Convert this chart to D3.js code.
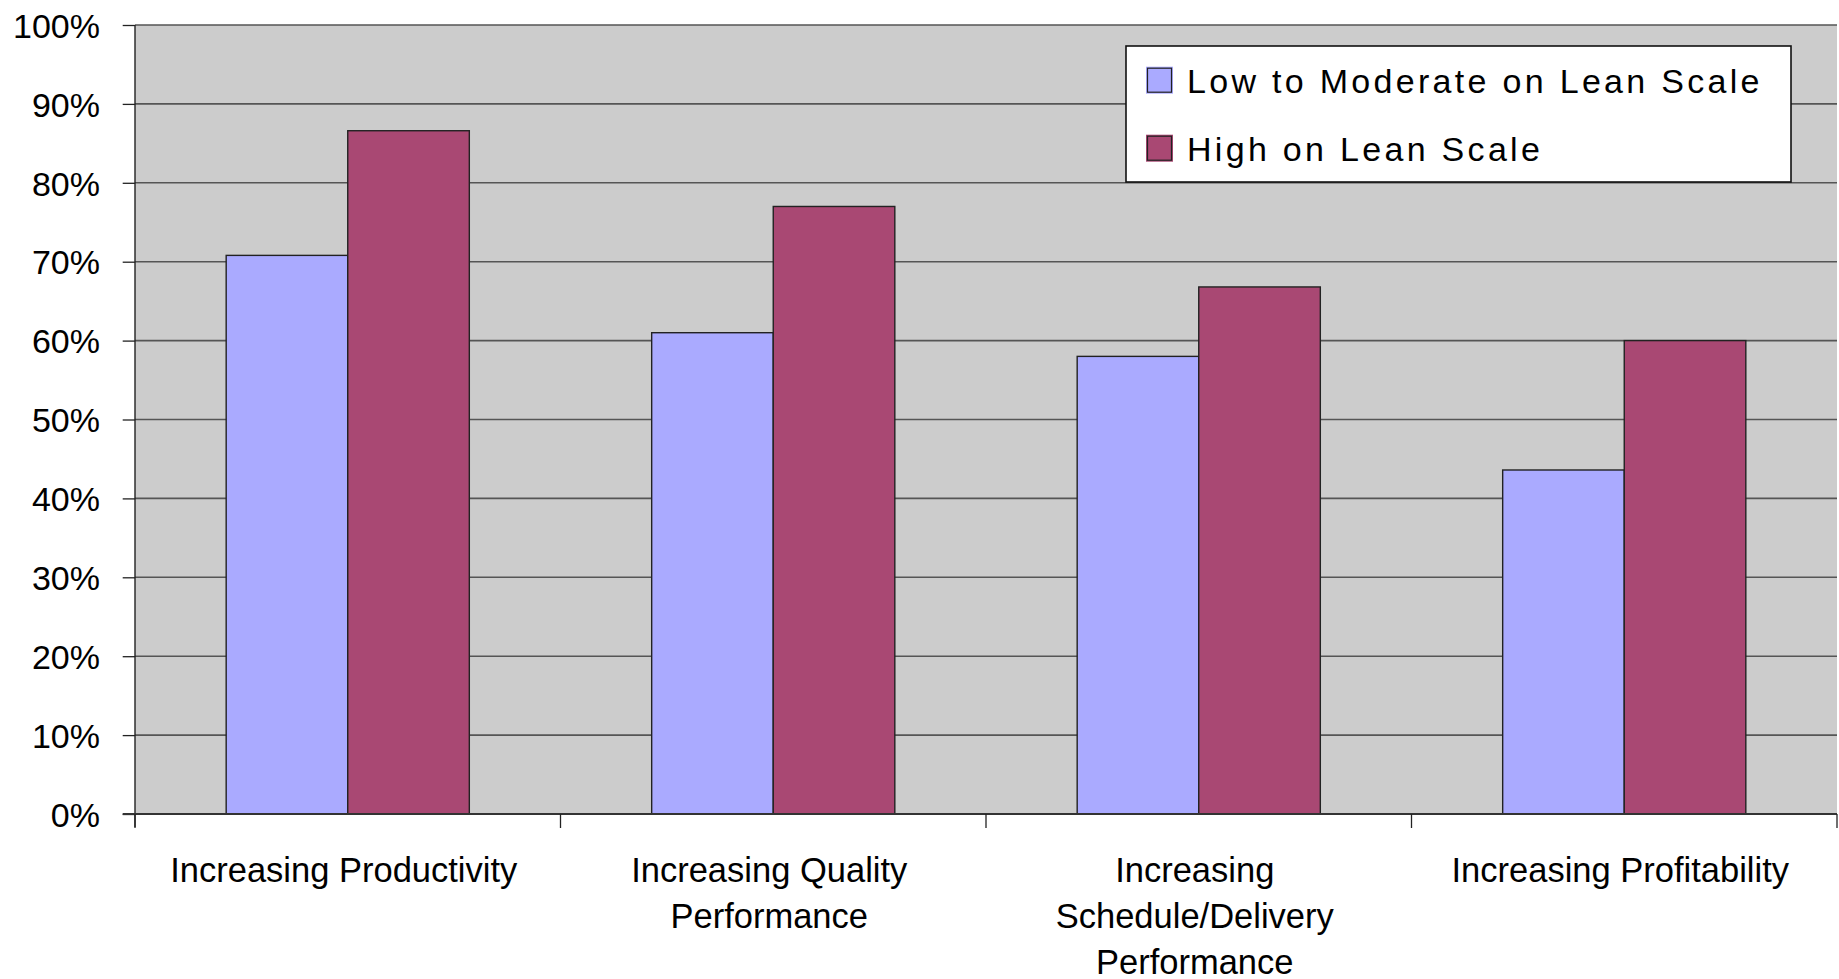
<!DOCTYPE html>
<html>
<head>
<meta charset="utf-8">
<script src="https://cdn.jsdelivr.net/npm/d3@7/dist/d3.min.js"></script>
<style>
  html, body { margin: 0; padding: 0; background: #ffffff; }
  svg { display: block; font-family: "Liberation Sans", Arial, Helvetica, sans-serif; }
</style>
</head>
<body>
<svg id="chart" width="1839" height="979"></svg>
<script>
// Outcome categories (each label is split into its printed lines)
const categories = [
  "Increasing Productivity",
  "Increasing Quality Performance",
  "Increasing Schedule/Delivery Performance",
  "Increasing Profitability"
];
const categoryLines = [
  ["Increasing Productivity"],
  ["Increasing Quality", "Performance"],
  ["Increasing", "Schedule/Delivery", "Performance"],
  ["Increasing Profitability"]
];

// Series names and their values (percent of respondents)
const seriesNames = ["Low to Moderate on Lean Scale", "High on Lean Scale"];
const lowToModerate = [70.8, 61.0, 58.0, 43.6];
const highOnLean = [86.6, 77.0, 66.8, 60.0];
const seriesColors = ["#aaaaff", "#a94873"];

// Y axis ticks
const yTicks = [0, 10, 20, 30, 40, 50, 60, 70, 80, 90, 100];

const seriesValues = [lowToModerate, highOnLean];
const rows = categories.map((c, i) => ({
  category: c,
  values: seriesNames.map((s, j) => ({ series: s, value: seriesValues[j][i], idx: j }))
}));

const svg = d3.select("#chart");
const plot = { left: 135, right: 1837, top: 25, bottom: 814 };

const x0 = d3.scaleBand()
  .domain(categories)
  .range([plot.left, plot.right])
  .padding(0);

const x1 = d3.scaleBand()
  .domain(seriesNames)
  .range([0, x0.bandwidth()])
  .paddingInner(0)
  .paddingOuter(0.75);

const y = d3.scaleLinear()
  .domain([0, 100])
  .range([plot.bottom, plot.top]);

// Plot area background
svg.append("rect")
  .attr("x", plot.left)
  .attr("y", plot.top)
  .attr("width", plot.right - plot.left)
  .attr("height", plot.bottom - plot.top)
  .attr("fill", "#cccccc");

// Horizontal gridlines
svg.append("g")
  .selectAll("line")
  .data(yTicks.filter(t => t > 0))
  .join("line")
  .attr("x1", plot.left)
  .attr("x2", plot.right)
  .attr("y1", d => y(d))
  .attr("y2", d => y(d))
  .attr("stroke", "#555555")
  .attr("stroke-width", 1.6);

// Bars
const groups = svg.append("g")
  .selectAll("g")
  .data(rows)
  .join("g")
  .attr("transform", d => `translate(${x0(d.category)},0)`);

groups.selectAll("rect")
  .data(d => d.values)
  .join("rect")
  .attr("x", d => x1(d.series))
  .attr("y", d => y(d.value))
  .attr("width", x1.bandwidth())
  .attr("height", d => y(0) - y(d.value))
  .attr("fill", d => seriesColors[d.idx])
  .attr("stroke", "#222222")
  .attr("stroke-width", 1.4);

// Y axis
const yAxis = d3.axisLeft(y)
  .tickValues(yTicks)
  .tickFormat(d => d + "%")
  .tickSize(12.3)
  .tickPadding(22.7);

const yG = svg.append("g")
  .attr("transform", `translate(${plot.left},0)`)
  .call(yAxis);
yG.select(".domain").remove();
yG.selectAll(".tick line").attr("stroke", "#222222").attr("stroke-width", 1.3);
yG.selectAll(".tick text")
  .attr("dy", "0.36em")
  .attr("font-size", 34)
  .attr("font-family", "\"Liberation Sans\", Arial, sans-serif")
  .attr("fill", "#000000");

// Axis lines
svg.append("line")
  .attr("x1", plot.left).attr("x2", plot.left)
  .attr("y1", plot.top).attr("y2", plot.bottom + 13)
  .attr("stroke", "#222222").attr("stroke-width", 1.4);
svg.append("line")
  .attr("x1", plot.left - 12.3).attr("x2", plot.right)
  .attr("y1", plot.bottom).attr("y2", plot.bottom)
  .attr("stroke", "#333333").attr("stroke-width", 1.8);

// Category tick marks at band boundaries
const boundaries = categories.map(c => x0(c)).concat([x0(categories[categories.length - 1]) + x0.step()]);
svg.append("g")
  .selectAll("line")
  .data(boundaries)
  .join("line")
  .attr("x1", d => d).attr("x2", d => d)
  .attr("y1", plot.bottom).attr("y2", plot.bottom + 14)
  .attr("stroke", "#222222").attr("stroke-width", 1.3);

// Category labels
const labelG = svg.append("g")
  .attr("font-size", 34.5)
  .attr("fill", "#000000")
  .attr("text-anchor", "middle");

categories.forEach((c, i) => {
  const cx = x0(c) + x0.bandwidth() / 2 - 4;
  const t = labelG.append("text")
    .attr("x", cx)
    .attr("y", 881.7);
  categoryLines[i].forEach((line, k) => {
    t.append("tspan")
      .attr("x", cx)
      .attr("dy", k === 0 ? 0 : 46.3)
      .text(line);
  });
});

// Legend
const legend = svg.append("g").attr("transform", "translate(1126,46)");
legend.append("rect")
  .attr("x", 0).attr("y", 0)
  .attr("width", 665).attr("height", 136)
  .attr("fill", "#ffffff")
  .attr("stroke", "#111111")
  .attr("stroke-width", 1.6);

const legendItems = legend.selectAll("g.item")
  .data(seriesNames)
  .join("g")
  .attr("class", "item")
  .attr("transform", (d, i) => `translate(0,${i * 68})`);

legendItems.append("rect")
  .attr("x", 20).attr("y", 20.7)
  .attr("width", 27).attr("height", 27)
  .attr("fill", (d, i) => seriesColors[i]);
legendItems.append("rect")
  .attr("x", 21.5).attr("y", 22.2)
  .attr("width", 24).attr("height", 24)
  .attr("fill", (d, i) => seriesColors[i])
  .attr("stroke", "#222222")
  .attr("stroke-width", 1.2);

legendItems.append("text")
  .attr("x", 61)
  .attr("y", 47.3)
  .attr("font-size", 34)
  .attr("letter-spacing", 3.3)
  .attr("fill", "#000000")
  .text(d => d);
</script>
</body>
</html>
